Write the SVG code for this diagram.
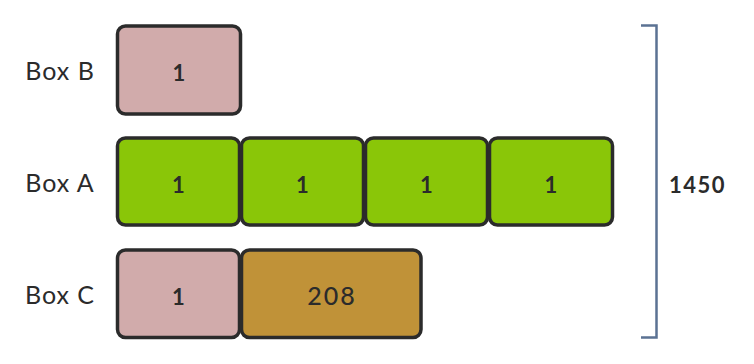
<svg xmlns="http://www.w3.org/2000/svg" width="754" height="364" viewBox="0 0 754 364">
<style>
.cell{stroke:#2b2b2b;stroke-width:3.5}
.pink{fill:#d1abab}
.green{fill:#8ac608}
.gold{fill:#c09238}
.num{font-family:Lato,"Open Sans",sans-serif;font-weight:700;font-size:22px;fill:#2b2b2b;text-anchor:middle}
.big{font-family:Lato,"Open Sans",sans-serif;font-weight:500;font-size:25px;letter-spacing:2px;fill:#2b2b2b;text-anchor:middle}
.lbl{font-family:Lato,"Noto Sans",sans-serif;font-weight:400;font-size:25px;letter-spacing:1px;fill:#2b2b2b;text-anchor:middle}
.total{font-family:Lato,"Open Sans",sans-serif;font-weight:700;font-size:22px;letter-spacing:1.5px;fill:#2b2b2b}
</style>
<rect width="754" height="364" fill="#ffffff"/>
<g id="boxB">
<text class="lbl" x="60" y="80">Box B</text>
<rect class="cell pink" x="117.5" y="26" width="123" height="88" rx="8"/>
<text class="num" x="179" y="81">1</text>
</g>
<g id="boxA">
<text class="lbl" x="60" y="192">Box A</text>
<rect class="cell green" x="117.5" y="138" width="122" height="87" rx="8"/>
<text class="num" x="178.5" y="193">1</text>
<rect class="cell green" x="241.5" y="138" width="122" height="87" rx="8"/>
<text class="num" x="302.5" y="193">1</text>
<rect class="cell green" x="365.5" y="138" width="122" height="87" rx="8"/>
<text class="num" x="426.5" y="193">1</text>
<rect class="cell green" x="489.5" y="138" width="123" height="87" rx="8"/>
<text class="num" x="551" y="193">1</text>
</g>
<g id="boxC">
<text class="lbl" x="60" y="304">Box C</text>
<rect class="cell pink" x="117.5" y="250" width="122" height="87.5" rx="8"/>
<text class="num" x="178.5" y="305">1</text>
<rect class="cell gold" x="241.5" y="250" width="179.5" height="87.5" rx="8"/>
<text class="big" x="332" y="305">208</text>
</g>
<g id="connectors">
<path d="M641 25.5 H656.5 V337.5 H641" fill="none" stroke="#5b7293" stroke-width="2.5"/>
</g>
<g id="total">
<text class="total" x="669" y="193">1450</text>
</g>
</svg>
